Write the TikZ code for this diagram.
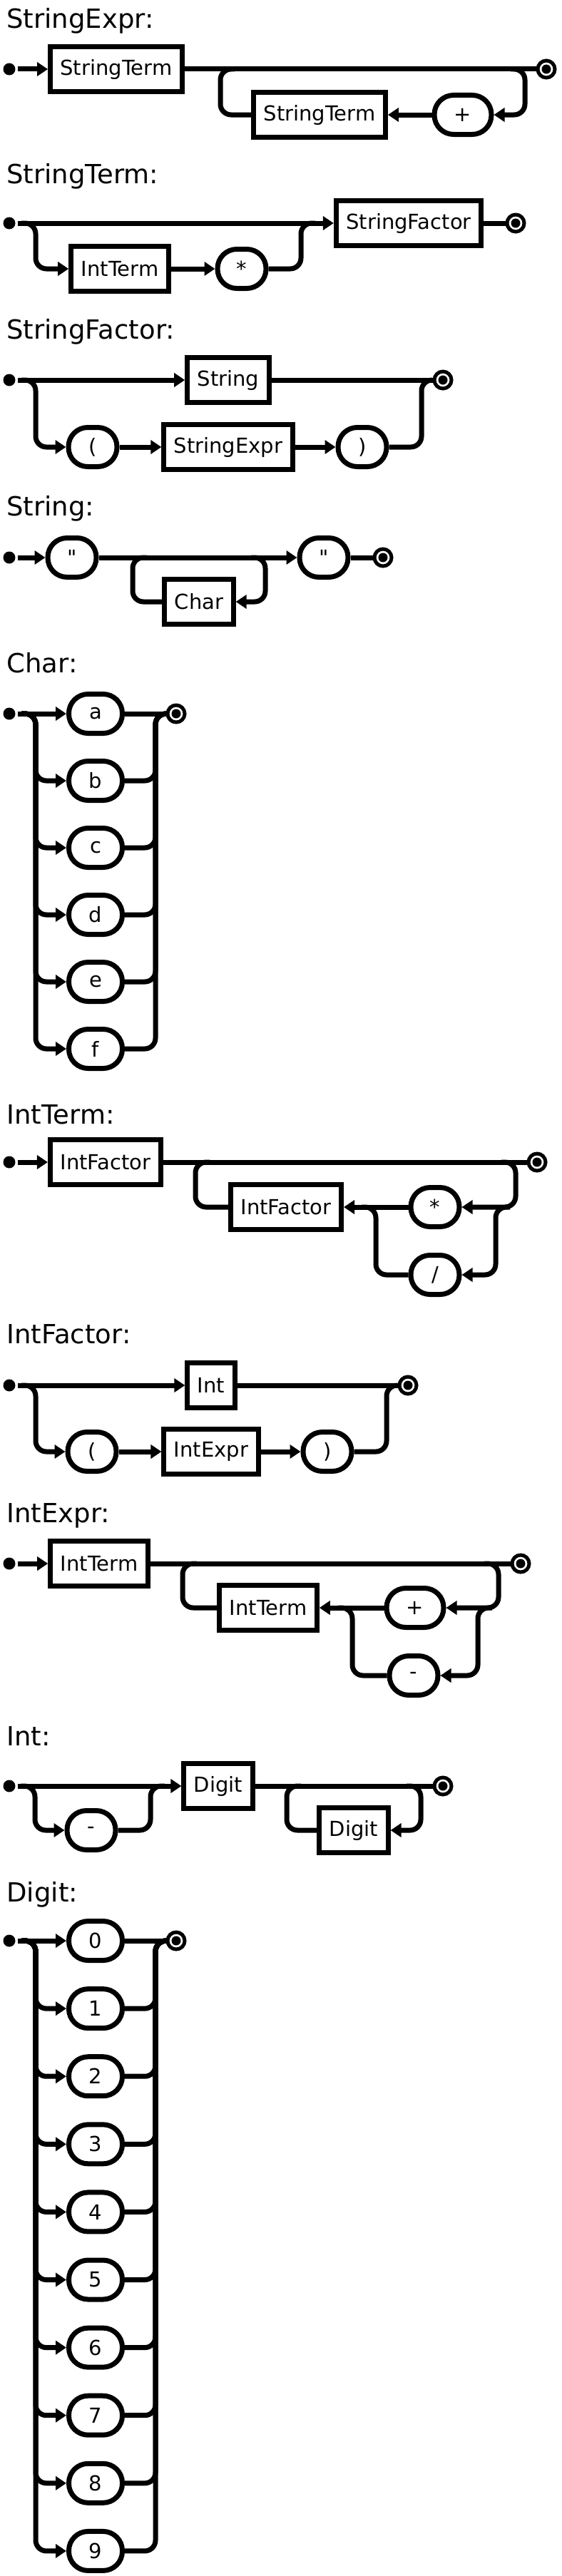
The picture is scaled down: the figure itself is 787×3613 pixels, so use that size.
\documentclass[tikz,border=0pt]{standalone}
\usepackage{fontspec}
\setmainfont{DejaVu Sans}[Ligatures=TeXOff]
\usetikzlibrary{arrows.meta,calc}

\begin{document}
\begin{tikzpicture}[x=1pt, y=-1pt, line width=7pt,
  title/.style={anchor=base west, inner sep=0pt, font=\fontsize{37}{44}\selectfont},
  nonterm/.style={draw, rectangle, minimum height=63pt, inner xsep=14pt, inner ysep=0pt,
                  font=\fontsize{29}{34}\selectfont},
  term/.style={draw, rectangle, rounded corners=27pt, minimum height=55pt, minimum width=68pt,
               inner xsep=8pt, inner ysep=0pt, font=\fontsize{29}{34}\selectfont},
  startdot/.style={circle, fill, inner sep=0pt, minimum size=17pt},
  enddot/.style={circle, draw, line width=5pt, fill=white, inner sep=0pt, minimum size=24pt,
                 path picture={\fill[black] (path picture bounding box.center) circle (6.5pt);}},
  rail/.style={rounded corners=15pt},
  arr/.style={rail, -{Triangle[length=15pt, width=19pt]}},
]
  \useasboundingbox (0,0) rectangle (787,3613);

  % StringExpr
  \node[title] (t1) at (6,40) {StringExpr:};
  \node[startdot] (s1) at (13,97) {};
  \node[nonterm] (se1) at (163,97) {StringTerm};
  \node[enddot] (e1) at (766,97) {};
  \node[nonterm] (se2) at (448,161) {StringTerm};
  \node[term, minimum width=80pt] (se3) at (649,161) {+};
  \coordinate (se1a) at (309,97);
  \coordinate (se1b) at (736,97);
  \draw[arr] (s1) -- (se1);
  \draw[rail] (se1) -- (e1);
  \draw[arr] ($(se1b)+(-20,0)$) -- (se1b) |- (se3);
  \draw[arr] (se3) -- (se2);
  \draw[rail] (se2) -| (se1a) -- ++(20,0);

  % StringTerm
  \node[title] (t2) at (6,257) {StringTerm:};
  \node[startdot] (s2) at (13,313) {};
  \node[nonterm] (st1) at (573,313) {StringFactor};
  \node[enddot] (e2) at (723,313) {};
  \node[nonterm] (st2) at (168,377) {IntTerm};
  \node[term] (st3) at (339,377) {*};
  \coordinate (st1a) at (50,313);
  \coordinate (st1b) at (422,313);
  \draw[arr] (s2) -- (st1);
  \draw[rail] (st1) -- (e2);
  \draw[arr] ($(st1a)+(-20,0)$) -- (st1a) |- (st2);
  \draw[arr] (st2) -- (st3);
  \draw[rail] (st3) -| (st1b) -- ++(20,0);

  % StringFactor
  \node[title] (t3) at (6,475) {StringFactor:};
  \node[startdot] (s3) at (13,533) {};
  \node[nonterm] (sf1) at (320,533) {String};
  \node[enddot] (e3) at (621,533) {};
  \node[term] (sf2) at (130,627) {(};
  \node[nonterm] (sf3) at (320,627) {StringExpr};
  \node[term] (sf4) at (508,627) {)};
  \coordinate (sf1a) at (50,533);
  \coordinate (sf1b) at (591,533);
  \draw[arr] (s3) -- (sf1);
  \draw[rail] (sf1) -- (e3);
  \draw[arr] ($(sf1a)+(-20,0)$) -- (sf1a) |- (sf2);
  \draw[arr] (sf2) -- (sf3);
  \draw[arr] (sf3) -- (sf4);
  \draw[rail] (sf4) -| (sf1b) -- ++(15,0);

  % String
  \node[title] (t4) at (6,723) {String:};
  \node[startdot] (s4) at (13,782) {};
  \node[term] (sg1) at (101,782) {"};
  \node[term] (sg2) at (454,782) {"};
  \node[enddot] (e4) at (537,782) {};
  \node[nonterm] (sg3) at (279,844) {Char};
  \coordinate (sg1a) at (186,782);
  \coordinate (sg1b) at (372,782);
  \draw[arr] (s4) -- (sg1);
  \draw[arr] (sg1) -- (sg2);
  \draw[rail] (sg2) -- (e4);
  \draw[arr] ($(sg1b)+(-20,0)$) -- (sg1b) |- (sg3);
  \draw[rail] (sg3) -| (sg1a) -- ++(20,0);

  % Char
  \node[title] (t5) at (6,943) {Char:};
  \node[startdot] (s5) at (13,1001) {};
  \node[enddot] (e5) at (247,1001) {};
  \foreach \c [count=\i from 0] in {a,b,c,d,e,f}
    \node[term, minimum width=75pt] (ch\i) at (134,1001+94*\i) {\c};
  \coordinate (cha) at (50,1001);
  \coordinate (chb) at (218,1001);
  \draw[arr] (s5) -- (ch0);
  \draw[rail] (ch0) -- (e5);
  \foreach \i in {1,...,5} {
    \draw[arr] ($(cha)+(-20,0)$) -- (cha) |- (ch\i);
    \draw[rail] (ch\i) -| (chb) -- ++(15,0);
  }

  % IntTerm
  \node[title] (t6) at (6,1576) {IntTerm:};
  \node[startdot] (s6) at (13,1630) {};
  \node[nonterm] (it1) at (148,1630) {IntFactor};
  \node[enddot] (e6) at (753,1630) {};
  \node[nonterm] (it2) at (401,1693) {IntFactor};
  \node[term] (it3) at (610,1693) {*};
  \node[term] (it4) at (610,1788) {/};
  \coordinate (it1a) at (274,1630);
  \coordinate (it1b) at (723,1630);
  \coordinate (it2a) at (527,1693);
  \coordinate (it2b) at (695,1693);
  \draw[arr] (s6) -- (it1);
  \draw[rail] (it1) -- (e6);
  \draw[arr] ($(it1b)+(-20,0)$) -- (it1b) |- (it3);
  \draw[arr] ($(it2b)+(20,0)$) -- (it2b) |- (it4);
  \draw[rail] (it4) -| (it2a) -- ++(-20,0);
  \draw[arr] (it3) -- (it2);
  \draw[rail] (it2) -| (it1a) -- ++(20,0);

  % IntFactor
  \node[title] (t7) at (6,1884) {IntFactor:};
  \node[startdot] (s7) at (13,1943) {};
  \node[nonterm] (if1) at (296,1943) {Int};
  \node[enddot] (e7) at (572,1943) {};
  \node[term] (if2) at (129,2036) {(};
  \node[nonterm] (if3) at (296,2036) {IntExpr};
  \node[term] (if4) at (459,2036) {)};
  \coordinate (if1a) at (50,1943);
  \coordinate (if1b) at (542,1943);
  \draw[arr] (s7) -- (if1);
  \draw[rail] (if1) -- (e7);
  \draw[arr] ($(if1a)+(-20,0)$) -- (if1a) |- (if2);
  \draw[arr] (if2) -- (if3);
  \draw[arr] (if3) -- (if4);
  \draw[rail] (if4) -| (if1b) -- ++(15,0);

  % IntExpr
  \node[title] (t8) at (6,2135) {IntExpr:};
  \node[startdot] (s8) at (13,2193) {};
  \node[nonterm] (ie1) at (139,2193) {IntTerm};
  \node[enddot] (e8) at (730,2193) {};
  \node[nonterm] (ie2) at (376,2255) {IntTerm};
  \node[term, minimum width=80pt] (ie3) at (582,2255) {+};
  \node[term] (ie4) at (580,2350) {-};
  \coordinate (ie1a) at (256,2193);
  \coordinate (ie1b) at (699,2193);
  \coordinate (ie2a) at (494,2255);
  \coordinate (ie2b) at (670,2255);
  \draw[arr] (s8) -- (ie1);
  \draw[rail] (ie1) -- (e8);
  \draw[arr] ($(ie1b)+(-20,0)$) -- (ie1b) |- (ie3);
  \draw[arr] ($(ie2b)+(20,0)$) -- (ie2b) |- (ie4);
  \draw[rail] (ie4) -| (ie2a) -- ++(-20,0);
  \draw[arr] (ie3) -- (ie2);
  \draw[rail] (ie2) -| (ie1a) -- ++(20,0);

  % Int
  \node[title] (t9) at (6,2448) {Int:};
  \node[startdot] (s9) at (13,2505) {};
  \node[term] (in1) at (128,2567) {-};
  \node[nonterm] (in2) at (306,2505) {Digit};
  \node[enddot] (e9) at (621,2505) {};
  \node[nonterm] (in3) at (496,2567) {Digit};
  \coordinate (in1a) at (49,2505);
  \coordinate (in1b) at (211,2505);
  \coordinate (in2a) at (402,2505);
  \coordinate (in2b) at (590,2505);
  \draw[arr] (s9) -- (in2);
  \draw[arr] ($(in1a)+(-20,0)$) -- (in1a) |- (in1);
  \draw[rail] (in1) -| (in1b) -- ++(20,0);
  \draw[rail] (in2) -- (e9);
  \draw[arr] ($(in2b)+(-20,0)$) -- (in2b) |- (in3);
  \draw[rail] (in3) -| (in2a) -- ++(20,0);

  % Digit
  \node[title] (t10) at (6,2667) {Digit:};
  \node[startdot] (s10) at (13,2722) {};
  \node[enddot] (e10) at (247,2722) {};
  \foreach \d in {0,...,9}
    \node[term, minimum width=75pt] (dg\d) at (134,2722+95.1*\d) {\d};
  \coordinate (dga) at (50,2722);
  \coordinate (dgb) at (218,2722);
  \draw[arr] (s10) -- (dg0);
  \draw[rail] (dg0) -- (e10);
  \foreach \d in {1,...,9} {
    \draw[arr] ($(dga)+(-20,0)$) -- (dga) |- (dg\d);
    \draw[rail] (dg\d) -| (dgb) -- ++(15,0);
  }
\end{tikzpicture}
\end{document}
